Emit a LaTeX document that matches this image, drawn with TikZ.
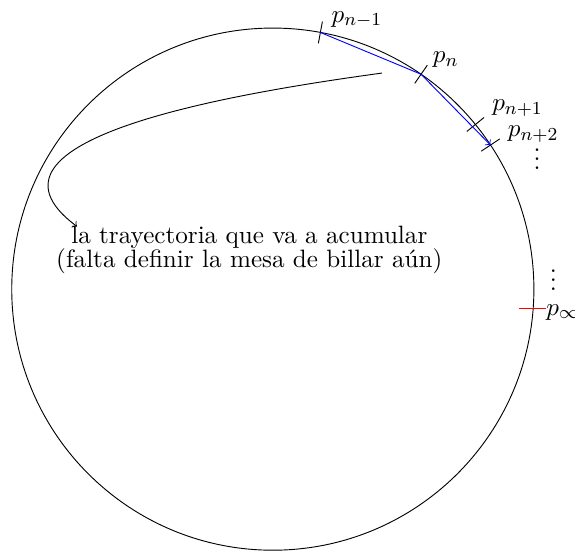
\documentclass[11pt,tikz,border=0pt]{standalone}
\usepackage{tikz}
\usetikzlibrary{positioning}

\begin{document}
\begin{tikzpicture}[
  >=to, line width=0.4pt,
  tickmark/.style={draw=black},
  limmark/.style={draw=red},
  orbit/.style={->, draw=blue},
  ptlabel/.style={inner sep=1pt},
  note/.style={align=center, inner sep=2pt}
]
  \useasboundingbox (-4.18,-4.0) rectangle (4.63,4.43);

  % la mesa (circulo de radio 4)
  \draw (0,0) circle (4);

  % puntos de la trayectoria sobre el borde
  \coordinate (pA) at (79.5:4);
  \coordinate (pB) at (55.4:4);
  \coordinate (pC) at (39.1:4);
  \coordinate (pD) at (33.5:4);
  \coordinate (pInf) at (-4.2:4);

  % marcas
  \foreach \a in {79.5,55.4,39.1,33.5}{
    \draw[tickmark] (\a:3.83) -- (\a:4.17);
  }
  \draw[limmark] ([xshift=-0.22cm]pInf) -- ([xshift=0.19cm]pInf);

  % etiquetas
  \node[ptlabel] (lA) at (1.29, 4.13) {$p_{n-1}$};
  \node[ptlabel] (lB) at (2.65, 3.52) {$p_{n}$};
  \node[ptlabel] (lC) at (3.75, 2.77) {$p_{n+1}$};
  \node[ptlabel] (lD) at (3.99, 2.38) {$p_{n+2}$};
  \node[ptlabel] (dotsA) at (4.05, 2.10) {$\vdots$};
  \node[ptlabel] (dotsB) at (4.30, 0.24) {$\vdots$};
  \node[ptlabel, anchor=west] (lInf) at ([xshift=0.16cm, yshift=-0.06cm]pInf) {$p_\infty$};

  % trayectoria
  \draw[orbit] (pA) -- (pB) -- (pD);

  % comentario
  \node[note] (traj) at (-0.36, 0.60)
       {la trayectoria que va a acumular\\[-3pt](falta definir la mesa de billar aún)};
  \coordinate (orig) at (1.67, 3.31);
  \coordinate (tip) at (-3.0, 0.96);
  \draw[->] (orig) .. controls (-0.6, 3.0) and (-4.8, 2.3) .. (tip);
\end{tikzpicture}
\end{document}
